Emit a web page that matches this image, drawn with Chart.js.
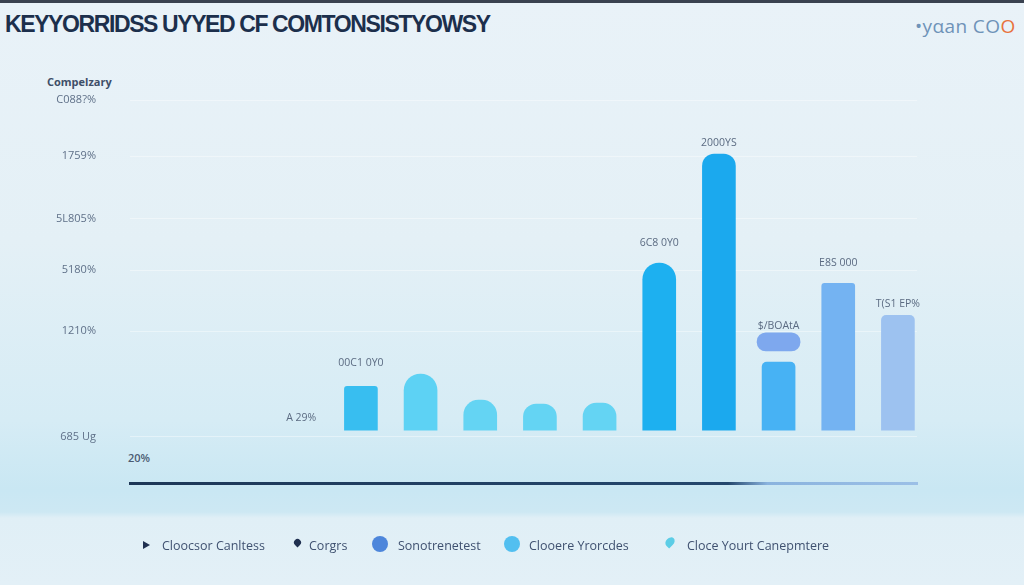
<!DOCTYPE html>
<html>
<head>
<meta charset="utf-8">
<script src="https://cdn.jsdelivr.net/npm/chart.js@4.4.1/dist/chart.umd.min.js"></script>
<style>
  html, body { margin: 0; padding: 0; }
  body {
    width: 1024px; height: 585px; overflow: hidden; position: relative;
    font-family: "Open Sans", sans-serif;
    background: linear-gradient(to bottom, #e9f2f8 0px, #e4f0f6 240px, #d6ecf5 420px, #c9e7f3 490px, #cde8f3 512px, #e0eff6 518px, #e3f0f7 585px);
  }
  .topline { position: absolute; left: 0; top: 0; width: 1024px; height: 3px; background: #3a4250; }
  .title { position: absolute; left: 5px; top: 11px; font: 700 23px "Liberation Sans", sans-serif; letter-spacing: -1.4px; color: #1c2f4c; white-space: nowrap; }
  .logo { position: absolute; left: 915px; top: 13px; font: 400 19px "Open Sans", sans-serif; letter-spacing: 0.4px; color: #6f93b8; white-space: nowrap; }
  .logo b { font-weight: 400; color: #e8733c; }
  .cap { position: absolute; left: 47px; top: 74px; font: 700 11px "Open Sans", sans-serif; color: #3e4e68; }
  .low { position: absolute; left: 128px; top: 450px; font: 600 11px "Open Sans", sans-serif; color: #4b5b72; }
  #wrap { position: absolute; left: 0; top: 0; width: 1024px; height: 585px; }
  .leg { position: absolute; top: 537px; font: 400 12.5px "Open Sans", sans-serif; color: #3f5170; white-space: nowrap; }
  .ico { position: absolute; }
</style>
</head>
<body>
<div class="topline"></div>
<div class="title">KEYYORRIDSS UYYED CF COMTONSISTYOWSY</div>
<div class="logo">•yαan CO<b>O</b></div>
<div class="cap">Compelzary</div>
<div class="low">20%</div>
<div id="wrap"><canvas id="chart"></canvas></div>
<div id="legend"></div>
<script>
  // bar slots along the x axis and their values (percent-like units)
  const slots = [0, 1, 2, 3, 4, 5, 6, 7, 8, 9, 10, 11, 12];
  const shares = [null, null, 0, 13.3, 17, 9.1, 7.9, 8.2, 50.6, 83.6, 20.6, 44.5, 34.8];
  const barTags = [null, null, 'A 29%', '00C1 0Y0', null, null, null, null, '6C8 0Y0', '2000YS', null, 'E8S 000', 'T(S1 EP%'];
  // floating piece sitting above slot 10
  const splitSlots = [10];
  const splitRanges = [[24, 29.5]];
  const splitTags = ['$/BOAtA'];
  // y axis
  const yTicks = [100, 83, 64, 48.5, 30, -2];
  const yTickLabels = ['C088?%', '1759%', '5L805%', '5180%', '1210%', '685 Ug'];
  // legend
  const legendNames = ['Cloocsor Canltess', 'Corgrs', 'Sonotrenetest', 'Clooere Yrorcdes', 'Cloce Yourt Canepmtere'];

  // styling per slot
  const barColors = ['#36bdf0', '#36bdf0', 'rgba(0,0,0,0)', '#38bef0', '#5dd2f4', '#64d4f3', '#64d4f3', '#64d4f3', '#1db0f0', '#1ba9ee', '#47b2f4', '#74b3f2', '#9dc2f0'];
  const barRadius = [0, 0, 0, 3, 17, 15, 14, 15, 17, 12, 5, 3, 5];
  const tagLift = [0, 0, 12, 23, 0, 0, 0, 0, 20, 11, 0, 20, 11];

  const tagPlugin = {
    id: 'tags',
    afterDatasetsDraw(chart) {
      const c = chart.ctx;
      c.save();
      c.font = '10.5px "Open Sans"';
      c.fillStyle = '#5b6b82';
      c.textAlign = 'center';
      c.textBaseline = 'middle';
      chart.getDatasetMeta(0).data.forEach((el, i) => {
        if (!barTags[i]) return;
        c.fillText(barTags[i], el.x, el.y - tagLift[i]);
      });
      chart.getDatasetMeta(1).data.forEach((el, i) => {
        c.fillText(splitTags[i], el.x, el.y - 7);
      });
      c.restore();
    }
  };

  new Chart(document.getElementById('chart'), {
    type: 'bar',
    data: {
      datasets: [{
        data: slots.map((s, i) => ({ x: s, y: shares[i] })),
        backgroundColor: ctx => barColors[ctx.dataIndex],
        borderRadius: ctx => barRadius[ctx.dataIndex],
        barThickness: 33,
        grouped: false
      }, {
        data: splitSlots.map((s, i) => ({ x: s, y: splitRanges[i] })),
        backgroundColor: '#7ea8ee',
        borderRadius: 9,
        borderSkipped: false,
        barThickness: 43,
        grouped: false
      }]
    },
    options: {
      responsive: true,
      maintainAspectRatio: false,
      animation: false,
      layout: { padding: { top: 100, right: 107, bottom: 102, left: 0 } },
      plugins: { legend: { display: false }, tooltip: { enabled: false } },
      scales: {
        x: {
          type: 'linear',
          offset: false,
          min: -0.87, max: 12.32,
          ticks: { display: false },
          grid: { display: false },
          border: {
            width: 3,
            color: ctx => {
              const a = ctx.chart.chartArea;
              if (!a) return '#1d3757';
              const g = ctx.chart.ctx.createLinearGradient(a.left, 0, a.right, 0);
              g.addColorStop(0, '#1d3757');
              g.addColorStop(0.76, '#24476d');
              g.addColorStop(0.81, '#8ab3de');
              g.addColorStop(1, '#9bbfe6');
              return g;
            }
          },
          afterFit: s => { s.height = 0; }
        },
        y: {
          min: -16, max: 100,
          afterFit: s => { s.width = 130; },
          afterBuildTicks: s => { s.ticks = yTicks.map(v => ({ value: v })); },
          ticks: {
            autoSkip: false,
            padding: 34,
            color: '#5f7088',
            font: { family: 'Open Sans', size: 11 },
            callback: (v, i) => yTickLabels[i]
          },
          grid: { color: 'rgba(255,255,255,0.4)', drawTicks: false },
          border: { display: false }
        }
      }
    },
    plugins: [tagPlugin]
  });

  // legend row
  const legendX = [162, 309, 398, 529, 687];
  const icons = [
    'left:143px;top:541px;width:0;height:0;border-top:4px solid transparent;border-bottom:4px solid transparent;border-left:7px solid #1f3050;',
    'left:294px;top:539px;width:7px;height:7px;background:#1f3050;border-radius:50% 50% 0 50%;transform:rotate(45deg);',
    'left:372px;top:536px;width:16px;height:16px;background:#4d86db;border-radius:50%;',
    'left:504px;top:536px;width:16px;height:16px;background:#52bff0;border-radius:50%;',
    'left:666px;top:538px;width:8px;height:8px;background:#5ccde6;border-radius:50% 50% 0 50%;transform:rotate(45deg) scale(1,1.3);'
  ];
  const legend = document.getElementById('legend');
  legendNames.forEach((n, i) => {
    const ic = document.createElement('div');
    ic.className = 'ico';
    ic.style.cssText = icons[i];
    legend.appendChild(ic);
    const t = document.createElement('div');
    t.className = 'leg';
    t.style.left = legendX[i] + 'px';
    t.textContent = n;
    legend.appendChild(t);
  });
</script>
</body>
</html>
